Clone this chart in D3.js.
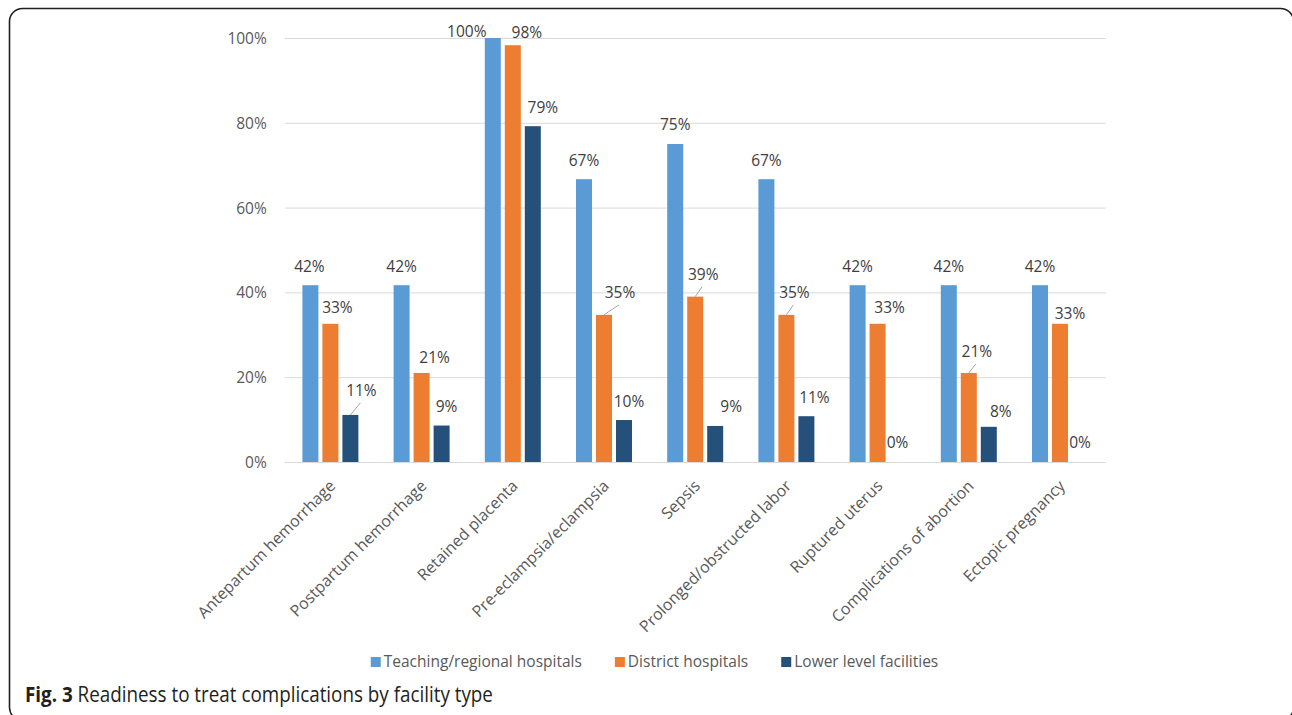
<!DOCTYPE html>
<html>
<head>
<meta charset="utf-8">
<script src="https://cdn.jsdelivr.net/npm/d3@7"></script>
<style>
  html, body { margin: 0; padding: 0; background: #fff; }
  svg { display: block; }
</style>
</head>
<body>
<svg id="chart" width="1292" height="715"></svg>
<script>
// ---------------- data ----------------
const categories = [
  "Antepartum hemorrhage", "Postpartum hemorrhage", "Retained placenta",
  "Pre-eclampsia/eclampsia", "Sepsis", "Prolonged/obstructed labor",
  "Ruptured uterus", "Complications of abortion", "Ectopic pregnancy"
];
const seriesNames = ["Teaching/regional hospitals", "District hospitals", "Lower level facilities"];
const teaching = [41.7, 41.7, 100, 66.7, 75.0, 66.7, 41.7, 41.7, 41.7];
const district = [32.6, 21.0, 98.3, 34.7, 39.0, 34.7, 32.6, 21.0, 32.6];
const lower    = [11.1, 8.6, 79.2, 9.9, 8.5, 10.8, 0, 8.3, 0];
const yTicks = [0, 20, 40, 60, 80, 100];
const captionBold = "Fig. 3";
const captionText = "Readiness to treat complications by facility type";

// ---------------- layout / style ----------------
const colors = ["#5B9BD5", "#ED7D31", "#24507A"];
// label nudges [dx, dy, leader] relative to bar top-centre (Excel-style manual placement)
const labelNudge = [
  [[-1,-19],[0,-19],[-26,-6],[0,-19],[0,-19],[0,-19],[0,-19],[0,-19],[0,-19]],
  [[7,-16],[13,-15],[14,-13],[16,-22,1],[8,-22,1],[8,-22,1],[12,-16],[8,-21,1],[10,-10]],
  [[11,-24,1],[5,-19],[10,-19],[5,-18],[16,-19],[8,-19],[0,-19],[12,-15],[0,-19]]
];
const FONT = "'Open Sans', 'DejaVu Sans', sans-serif";
const plotLeft = 284.8, plotRight = 1105.6, plotTop = 38, plotBottom = 462;

const svg = d3.select("#chart");

// border
svg.append("rect")
  .attr("x", 9.5).attr("y", 8.5).attr("width", 1284).attr("height", 712)
  .attr("rx", 13).attr("ry", 13)
  .attr("fill", "none").attr("stroke", "#231F20").attr("stroke-width", 1.6);

const x = d3.scaleBand().domain(categories).range([plotLeft, plotRight]).padding(0);
const x1 = d3.scaleBand().domain(seriesNames).range([-30, 30]).paddingInner(0.2).paddingOuter(0.1);
const y = d3.scaleLinear().domain([0, 100]).range([plotBottom, plotTop]);

// gridlines
svg.append("g").selectAll("line").data(yTicks).join("line")
  .attr("x1", plotLeft).attr("x2", plotRight)
  .attr("y1", d => y(d) + 0.5).attr("y2", d => y(d) + 0.5)
  .attr("stroke", "#D9D9D9").attr("stroke-width", 1);

// y axis labels
const yAxis = svg.append("g").attr("transform", `translate(${plotLeft},0)`)
  .call(d3.axisLeft(y).tickValues(yTicks).tickSize(0).tickPadding(18).tickFormat(d => d + "%"));
yAxis.select(".domain").remove();
yAxis.selectAll("text").attr("font-family", FONT).attr("font-size", "15.5px").attr("fill", "#595959").attr("dy", "0.35em");

// x axis labels
const xAxis = svg.append("g").attr("transform", `translate(0,${plotBottom})`)
  .call(d3.axisBottom(x).tickSize(0).tickPadding(0));
xAxis.select(".domain").remove();
xAxis.selectAll("text")
  .attr("font-family", FONT).attr("font-size", "16px").attr("fill", "#595959")
  .attr("text-anchor", "end")
  .attr("x", 0).attr("y", 0).attr("dy", "0.35em")
  .attr("transform", "translate(2,21) rotate(-45)");

// bars
const seriesData = [teaching, district, lower];
const rows = [];
seriesData.forEach((vals, si) => {
  vals.forEach((v, ci) => rows.push({ si, ci, v, cat: categories[ci], name: seriesNames[si] }));
});
const bx = d => x(d.cat) + x.bandwidth() / 2 + x1(d.name) + x1.bandwidth() / 2;

svg.append("g").selectAll("rect").data(rows).join("rect")
  .attr("x", d => x(d.cat) + x.bandwidth() / 2 + x1(d.name))
  .attr("width", x1.bandwidth())
  .attr("y", d => y(d.v))
  .attr("height", d => y(0) - y(d.v))
  .attr("fill", d => colors[d.si]);

// value labels
const lbl = svg.append("g");
rows.forEach(d => {
  const n = labelNudge[d.si][d.ci];
  const lx = bx(d) + n[0], ly = y(d.v) + n[1];
  if (n[2]) {
    lbl.append("line")
      .attr("x1", bx(d)).attr("y1", y(d.v))
      .attr("x2", lx - 1).attr("y2", ly + 12)
      .attr("stroke", "#A6A6A6").attr("stroke-width", 1);
  }
  lbl.append("text")
    .attr("x", lx).attr("y", ly).attr("dy", "0.35em")
    .attr("text-anchor", "middle")
    .attr("font-family", FONT).attr("font-size", "15.5px").attr("fill", "#404040")
    .text(Math.round(d.v) + "%");
});

// legend
const legend = svg.append("g");
const items = legend.selectAll("g").data(seriesNames).join("g");
items.append("rect").attr("width", 10).attr("height", 10).attr("y", 657).attr("fill", (d, i) => colors[i]);
items.append("text").attr("x", 13).attr("y", 662).attr("dy", "0.35em")
  .attr("font-family", FONT).attr("font-size", "15.5px").attr("fill", "#595959")
  .text(d => d);
let widths = [];
items.each(function () { widths.push(14 + d3.select(this).select("text").node().getComputedTextLength()); });
const gap = 32;
const total = d3.sum(widths) + gap * (widths.length - 1);
let cx = 655 - total / 2;
items.each(function (d, i) {
  d3.select(this).attr("transform", `translate(${cx},0)`);
  cx += widths[i] + gap;
});

// caption
const cap = svg.append("text").attr("x", 0).attr("y", 0)
  .attr("font-family", FONT).attr("font-size", "21px").attr("fill", "#231F20");
cap.append("tspan").attr("font-weight", "bold").text(captionBold);
cap.append("tspan").text(" " + captionText);
const cw = cap.node().getComputedTextLength();
cap.attr("transform", `translate(25,702) scale(${468 / cw},1)`);
</script>
</body>
</html>
